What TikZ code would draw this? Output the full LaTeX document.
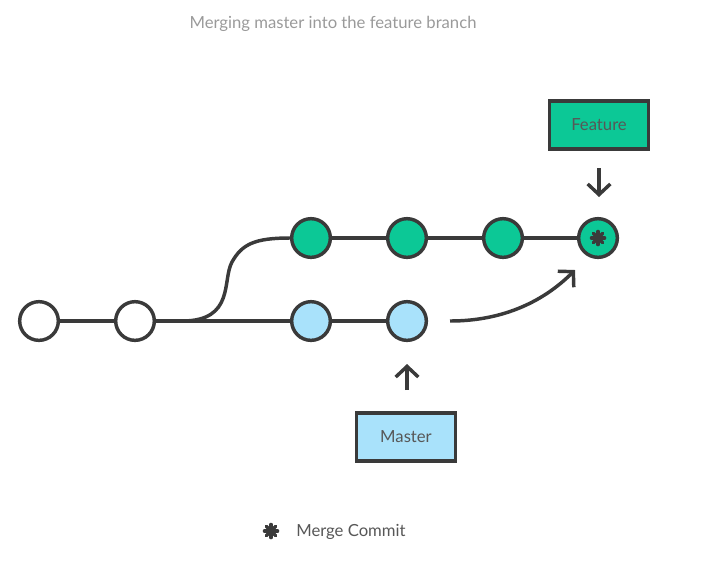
\documentclass[tikz,border=0pt]{standalone}
\usepackage{fontspec}
\setmainfont{Lato}
\usetikzlibrary{arrows.meta}
\definecolor{ink}{HTML}{3A3A3A}
\definecolor{featgreen}{HTML}{0CC896}
\definecolor{mastblue}{HTML}{A9E2FB}
\definecolor{titlegray}{HTML}{9A9A9A}
\tikzset{
  commit/.style={circle, draw=ink, line width=2.6pt, minimum size=29pt, inner sep=0pt},
  plain/.style={commit, fill=white},
  feat/.style={commit, fill=featgreen},
  mast/.style={commit, fill=mastblue},
  label box/.style={draw=ink, line width=2.6pt, minimum width=74pt, minimum height=36pt, inner sep=0pt, font=\fontsize{12.5}{14}\selectfont, text=ink!85},
  link/.style={draw=ink, line width=2.6pt},
  pointer/.style={draw=ink, line width=2.6pt, -{Straight Barb[length=8pt,width=17pt,line width=2.6pt]}},
  merge mark/.pic={
    \fill[ink] (0,0) circle (5.2);
    \foreach \a in {0,45,90,135}{\draw[ink, line width=2.5pt, line cap=round] (\a:6.6) -- (\a+180:6.6);}
  },
}
\begin{document}
\begin{tikzpicture}[x=0.75pt,y=-0.75pt]
\useasboundingbox (0,0) rectangle (705,576);
\node[font=\fontsize{12.5}{14}\selectfont, text=titlegray] (title) at (333,24) {Merging master into the feature branch};
% commits
\node[plain] (c1) at (39,321) {};
\node[plain] (c2) at (135,321) {};
\node[mast] (m1) at (311,321) {};
\node[mast] (m2) at (407,321) {};
\node[feat] (f1) at (311,238) {};
\node[feat] (f2) at (407,238) {};
\node[feat] (f3) at (503,238) {};
\node[feat] (mc) at (598,238) {};
\pic at (mc) {merge mark};
% links
\draw[link] (c1) -- (c2);
\draw[link] (c2) -- (m1);
\draw[link] (m1) -- (m2);
\draw[link] (f1) -- (f2);
\draw[link] (f2) -- (f3);
\draw[link] (f3) -- (mc);
\draw[link] (182,321) .. controls (235,321) and (222,280) .. (232,262) .. controls (242,244) and (255,238) .. (f1.west);
% labels
\node[label box, fill=featgreen] (feature) at (599,125) {Feature};
\node[label box, fill=mastblue] (master) at (406,437) {Master};
\coordinate (fa) at (599,168);
\coordinate (fb) at (599,197);
\draw[pointer] (fa) -- (fb);
\coordinate (ma) at (407,390);
\coordinate (mb) at (407,364);
\draw[pointer] (ma) -- (mb);
% merge arrow
\coordinate (ms) at (450,321);
\coordinate (me) at (575,270);
\draw[pointer] (ms) .. controls (505,321) and (545,300) .. (me);
% legend
\pic at (271,531) {merge mark};
\node[anchor=west, text=ink!85, font=\fontsize{12.5}{14}\selectfont, inner sep=0pt] (legtext) at (296,532) {Merge Commit};
\end{tikzpicture}
\end{document}
